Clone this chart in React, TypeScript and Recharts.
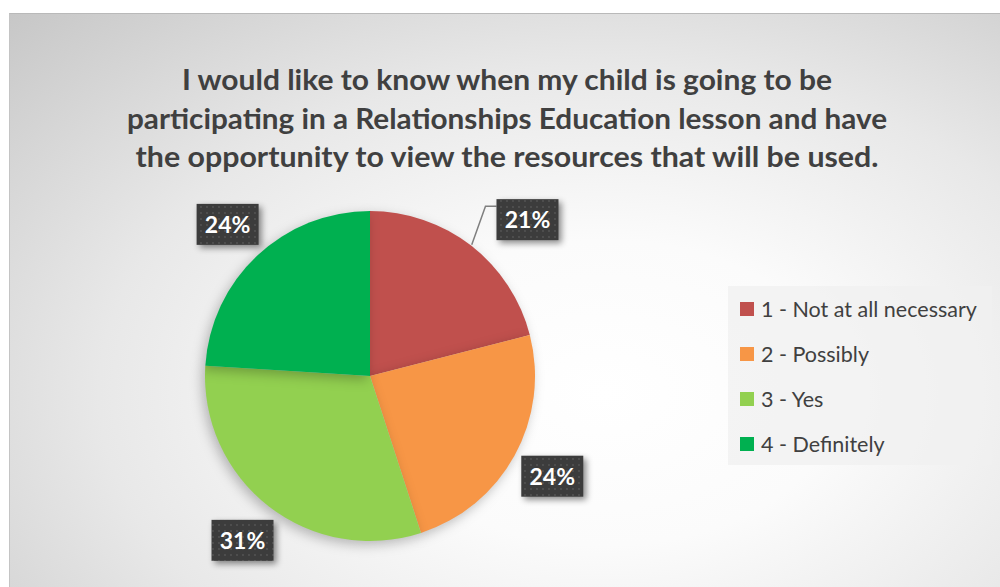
import React from "react";
import { PieChart, Pie, Cell, Legend } from "recharts";

const categories = [
  "1 - Not at all necessary",
  "2 - Possibly",
  "3 - Yes",
  "4 - Definitely",
];
const shares = [21, 24, 31, 24];
const colors = ["#C0504D", "#F79646", "#92D050", "#00B050"];
const titleLines = [
  "I would like to know when my child is going to be",
  "participating in a Relationships Education lesson and have",
  "the opportunity to view the resources that will be used.",
];

const data = categories.map((name, i) => ({ name, value: shares[i] }));

const RAD = Math.PI / 180;
const FONT = "Lato, 'DejaVu Sans', sans-serif";

const renderLabel = (props: any) => {
  const { cx, cy, midAngle, outerRadius, percent, index } = props;
  const r = outerRadius + 43;
  let x = cx + r * Math.cos(-midAngle * RAD);
  let y = cy + r * Math.sin(-midAngle * RAD);
  // excel's best fit pushes the first label out to the right, with a leader line
  const moved = index === 0;
  if (moved) {
    x += 30;
    y += 8;
  }
  const w = 62;
  const h = 41;
  const left = x - w / 2;
  const top = y - h / 2;
  const sx = cx + (outerRadius + 1) * Math.cos(-midAngle * RAD);
  const sy = cy + (outerRadius + 1) * Math.sin(-midAngle * RAD);
  return (
    <g>
      <defs>
        <pattern id="dots" width="6" height="6" patternUnits="userSpaceOnUse">
          <rect width="6" height="6" fill="#3c3c3c" />
          <circle cx="3" cy="3" r="0.9" fill="#555555" />
        </pattern>
      </defs>
      {moved && (
        <polyline
          points={`${sx},${sy} ${left - 11},${top + 7} ${left},${top + 7}`}
          fill="none"
          stroke="#7f7f7f"
          strokeWidth={1.5}
        />
      )}
      <rect
        x={left}
        y={top}
        width={w}
        height={h}
        fill="url(#dots)"
        style={{ filter: "drop-shadow(3px 3px 3px rgba(0,0,0,0.45))" }}
      />
      <text
        x={x}
        y={y + 8.5}
        textAnchor="middle"
        fill="#ffffff"
        fontFamily={FONT}
        fontWeight={700}
        fontSize={23}
      >
        {`${Math.round(percent * 100)}%`}
      </text>
    </g>
  );
};

const renderLegend = (props: any) => {
  const { payload } = props;
  return (
    <div
      style={{
        width: 264,
        height: 179,
        background: "rgba(240,240,240,0.75)",
        boxSizing: "border-box",
        fontFamily: FONT,
      }}
    >
      {(payload || []).map((entry: any, i: number) => (
        <div
          key={i}
          style={{
            display: "flex",
            alignItems: "center",
            height: 45,
            paddingLeft: 12,
            color: "#404040",
            fontSize: 21.5,
          }}
        >
          <span
            style={{
              display: "inline-block",
              width: 14,
              height: 14,
              background: entry.color,
              marginRight: 7,
            }}
          />
          {entry.value}
        </div>
      ))}
    </div>
  );
};

export default function App() {
  return (
    <div
      style={{
        position: "absolute",
        left: 0,
        top: 0,
        width: 1000,
        height: 587,
        background: "#ffffff",
        overflow: "hidden",
      }}
    >
      <div
        style={{
          position: "absolute",
          left: 9,
          top: 13,
          width: 991,
          height: 574,
          borderTop: "1px solid #b9b9b9",
          borderLeft: "1px solid #c4c4c4",
          background:
            "radial-gradient(ellipse 85% 95% at 60% 66%, #ffffff 0%, #fbfbfb 28%, #e8e8e8 60%, #c6c6c6 100%)",
        }}
      />
      <svg
        width={1000}
        height={587}
        style={{ position: "absolute", left: 0, top: 0 }}
      >
        {titleLines.map((line, i) => (
          <text
            key={i}
            x={507}
            y={90 + i * 38.5}
            textAnchor="middle"
            fill="#404040"
            fontFamily={FONT}
            fontWeight={700}
            fontSize={28.5}
            textLength={[650, 760, 743][i]}
            lengthAdjust="spacingAndGlyphs"
          >
            {line}
          </text>
        ))}
      </svg>
      <div style={{ position: "absolute", left: 0, top: 0 }}>
        <PieChart
          width={1000}
          height={587}
          margin={{ top: 0, right: 0, bottom: 0, left: 0 }}
        >
          <Pie
            data={data}
            dataKey="value"
            nameKey="name"
            cx={370}
            cy={376}
            outerRadius={165}
            startAngle={90}
            endAngle={-270}
            stroke="none"
            label={renderLabel}
            labelLine={false}
            isAnimationActive={false}
            style={{ filter: "drop-shadow(-3px 4px 6px rgba(0,0,0,0.25))" }}
          >
            {data.map((d, i) => (
              <Cell key={d.name} fill={colors[i]} />
            ))}
          </Pie>
          <Legend
            layout="vertical"
            align="right"
            verticalAlign="middle"
            content={renderLegend}
            wrapperStyle={{ left: 728, top: 286, width: 264, height: 179 }}
          />
        </PieChart>
      </div>
    </div>
  );
}
